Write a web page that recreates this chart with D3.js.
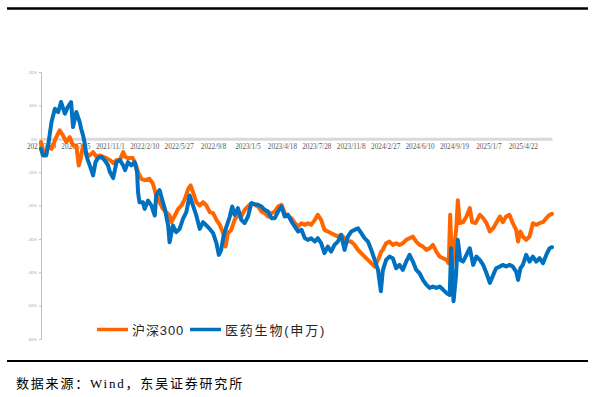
<!DOCTYPE html>
<html>
<head>
<meta charset="utf-8">
<script src="https://cdn.jsdelivr.net/npm/d3@7/dist/d3.min.js"></script>
<style>
  html, body { margin: 0; padding: 0; background: #ffffff; }
  svg { display: block; }
</style>
</head>
<body>
<svg id="chart" width="595" height="397"></svg>
<script>
// ---- data (trading-day index, cumulative return %) ----
const totalDays = 1069;
const xLabels = ["2021/3/29","2021/7/15","2021/11/1","2022/2/10","2022/5/27","2022/9/8","2023/1/5","2023/4/18","2023/7/28","2023/11/8","2024/2/27","2024/6/10","2024/9/19","2025/1/7","2025/4/22"];
const labelStep = 72;
const yTicks = [20, 10, 0, -10, -20, -30, -40, -50, -60];
const seriesNames = ["沪深300", "医药生物(申万)"];

const hsDays = [0,5,11,15,22,32,39,46,53,60,67,74,79,83,88,95,102,109,116,123,130,137,144,151,158,165,172,176,182,192,199,203,210,217,227,234,241,248,255,262,269,273,280,287,294,301,308,313,318,325,332,339,346,353,360,367,374,381,386,391,398,405,412,419,426,433,440,447,454,461,468,475,482,489,496,503,510,517,524,531,538,545,552,559,565,573,579,586,593,600,607,614,621,628,635,642,649,656,663,670,677,684,691,698,705,712,715,722,729,736,743,750,757,764,771,778,785,792,799,806,813,820,827,834,841,848,853,856,860,865,869,872,876,883,890,897,902,909,918,925,932,939,946,952,960,966,973,980,987,994,998,1003,1008,1015,1022,1029,1036,1043,1050,1057,1064,1069];
const hsVals = [-1,-4,-4,-2,-3,0.5,2.5,1,-1,0.5,-2,-2,-8,-6,-2,-4.4,-5,-4,-5.4,-5,-5.4,-5.8,-6.4,-7.3,-6.4,-6.4,-4,-5.4,-5.8,-5.8,-8,-10,-12,-12.4,-12,-13.4,-17,-19,-21,-22,-23,-25,-23,-21,-20,-18,-15,-14,-16,-19,-20,-19,-20,-22,-22.3,-24.3,-25.8,-28.3,-32.3,-28.3,-27.3,-24.3,-22.8,-23.3,-21.3,-20.3,-19.3,-19.8,-20.3,-21.8,-22.3,-23.3,-22.3,-21.8,-20.3,-19.8,-22.3,-23.3,-23.8,-25.3,-26.3,-25.3,-25.8,-25.3,-25.8,-24.3,-22.8,-24.3,-27.3,-27.8,-28.3,-28.8,-29.3,-28.8,-29.8,-30.8,-30.8,-31.8,-33.3,-34.3,-35.3,-36.3,-37.3,-38.3,-36.3,-33.8,-33.3,-31.3,-30.8,-31.8,-31.3,-31.8,-31.3,-30.3,-29.8,-29.3,-30.8,-31.8,-32.3,-33.3,-32.8,-31.8,-33.8,-35.3,-35.8,-36.3,-37.3,-22.8,-38.3,-32.3,-26.3,-18.4,-25.3,-25,-23.3,-20.8,-25,-25.3,-22.8,-23.8,-25.3,-27.8,-26.8,-25.3,-23.3,-25,-23.3,-22.8,-25.3,-27.3,-30.8,-27.8,-29.3,-30.3,-29.3,-25.3,-25.8,-25.3,-25,-23.8,-22.8,-22.5];

const medDays = [0,4,11,15,22,29,36,42,50,56,63,67,74,81,84,88,91,95,98,104,109,114,119,126,133,140,144,151,158,165,172,176,182,189,196,201,203,206,213,217,224,231,238,241,248,253,259,266,269,276,283,290,297,304,311,318,325,332,339,346,353,360,367,372,377,381,388,395,400,405,412,419,426,433,440,447,454,461,468,475,482,489,496,503,510,517,524,531,538,545,552,559,565,573,579,586,593,600,607,614,621,628,635,642,649,656,663,670,677,684,691,698,705,711,715,722,729,736,743,750,757,764,771,778,785,792,799,806,813,820,827,834,841,848,855,858,863,868,872,877,883,890,897,904,911,918,925,932,939,946,952,960,966,973,980,987,994,998,1003,1008,1015,1022,1029,1036,1043,1050,1057,1064,1069];
const medVals = [-3,-5,-5,-2,5,9,8,11,7.5,9.5,11,3.5,8,5,3,1,-1,-5,-6.4,-8.8,-11,-7,-5.8,-5.4,-6.4,-7.9,-9.9,-11.8,-7,-6.4,-8,-9.4,-7,-8,-7,-10,-16,-19,-19,-21,-18.5,-20,-23,-17,-15.4,-18,-21,-26,-31,-26,-28,-27,-24,-22,-17,-20,-23,-27,-25,-26,-27,-28.3,-31.3,-34.8,-33.3,-29.8,-26.3,-23.3,-20.3,-22.8,-20.8,-24.3,-25.3,-23.3,-19.3,-19.6,-19.8,-20.3,-21.3,-21.8,-23.8,-23.8,-21.8,-20.3,-23.3,-22.8,-24.8,-26.3,-27.8,-27.3,-29.8,-30.3,-29.8,-30.8,-29.8,-31.3,-34.3,-32.3,-33.8,-31.8,-30.8,-28.8,-33.3,-29.3,-27.8,-27.3,-26.8,-28.3,-29.8,-30.8,-33.3,-36.3,-39.3,-45.7,-39.5,-36.3,-35.3,-35.8,-38.8,-37.8,-39.3,-36.8,-34.8,-36.8,-39.3,-40.3,-42.3,-43.7,-44.7,-44.3,-44.7,-44.3,-45.2,-46.2,-46.8,-32.8,-48.7,-41.3,-30.3,-36.3,-36.8,-34.8,-32.8,-37.8,-35.3,-36.3,-37.8,-40.3,-43.2,-40.8,-38.8,-38.3,-37.8,-38.3,-37.8,-38.3,-39.8,-42.3,-38.8,-37.8,-34.8,-36.8,-35.3,-36.8,-35.8,-37.3,-34.8,-32.8,-32.5];

// ---- styles ----
const colors = ["#FF6600", "#0070C0"];

const svg = d3.select("#chart");

// frame lines
svg.append("line").attr("x1", 7).attr("x2", 588).attr("y1", 8.5).attr("y2", 8.5)
  .attr("stroke", "#000").attr("stroke-width", 2.5);
svg.append("line").attr("x1", 7).attr("x2", 588).attr("y1", 361).attr("y2", 361)
  .attr("stroke", "#000").attr("stroke-width", 2);

const x = d3.scaleLinear().domain([0, totalDays]).range([41, 552]);
const y = d3.scaleLinear().domain([-60, 20]).range([339, 72]);

// x axis at 0%
const xAxis = d3.axisBottom(x)
  .tickValues(xLabels.map((d, i) => i * labelStep))
  .tickFormat((d, i) => xLabels[i])
  .tickSize(0).tickPadding(5.5);
const gx = svg.append("g").attr("transform", `translate(0,${y(0)})`).call(xAxis);
gx.select(".domain").attr("stroke", "#d9d9d9").attr("stroke-width", 3);
gx.selectAll("text").attr("font-family", "'Liberation Serif', 'Times New Roman', serif")
  .attr("font-size", 7.2).attr("fill", "#595959");

// y axis
const yAxis = d3.axisLeft(y).tickValues(yTicks).tickFormat(d => d + "%").tickSize(2).tickPadding(2);
const gy = svg.append("g").attr("transform", `translate(${x(0)},0)`).call(yAxis);
gy.select(".domain").attr("stroke", "#bfbfbf").attr("stroke-width", 1);
gy.selectAll(".tick line").attr("stroke", "#bfbfbf");
gy.selectAll("text").attr("font-family", "'Liberation Sans', Arial, sans-serif")
  .attr("font-size", 4).attr("fill", "#a0a0a0");

// series
const line = d3.line().x(d => x(d[0])).y(d => y(d[1]));
const series = [
  d3.zip(hsDays, hsVals),
  d3.zip(medDays, medVals)
];
series.forEach((s, i) => {
  svg.append("path").datum(s).attr("d", line)
    .attr("fill", "none").attr("stroke", colors[i]).attr("stroke-width", 4)
    .attr("stroke-linejoin", "round").attr("stroke-linecap", "round");
});

// legend
const legend = svg.append("g").attr("font-family", "'Liberation Sans', 'Noto Sans CJK SC', sans-serif")
  .attr("font-size", 13).attr("fill", "#262626");
const legX = [97, 190];
seriesNames.forEach((n, i) => {
  legend.append("line").attr("x1", legX[i]).attr("x2", legX[i] + 31)
    .attr("y1", 329.5).attr("y2", 329.5).attr("stroke", colors[i]).attr("stroke-width", 3.5);
  legend.append("text").attr("x", legX[i] + 35).attr("y", 334.5)
    .attr("letter-spacing", i === 0 ? 0.9 : 1.8).text(n);
});

// source
svg.append("text").attr("x", 16).attr("y", 388)
  .attr("font-family", "'Liberation Serif', 'Noto Sans CJK SC', serif")
  .attr("font-size", 13).attr("letter-spacing", 1.8).attr("fill", "#000")
  .text("数据来源：Wind，东吴证券研究所");
</script>
</body>
</html>
